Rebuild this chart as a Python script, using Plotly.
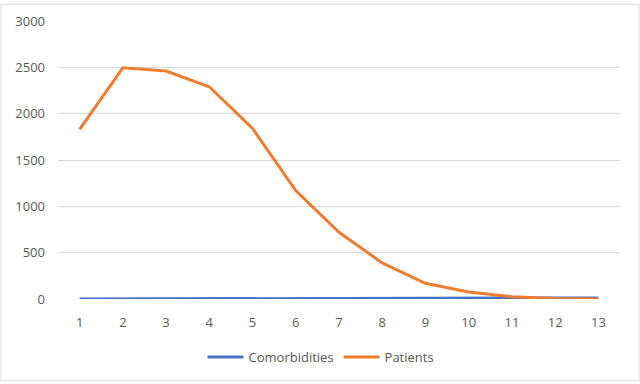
import plotly.graph_objects as go

categories = list(range(1, 14))
comorbidities = [0, 1, 2, 3, 4, 5, 6, 7, 8, 9, 10, 11, 12]
patients = [1830, 2495, 2460, 2290, 1840, 1170, 720, 390, 170, 75, 25, 6, 1]

W, H = 640, 384
ml, mr, mt, mb = 58, 20, 18, 84
pw, ph = W - ml - mr, H - mt - mb

fig = go.Figure()
fig.add_trace(go.Scatter(x=categories, y=comorbidities, mode='lines', name='Comorbidities',
                         line=dict(color='#4472C4', width=3)))
fig.add_trace(go.Scatter(x=categories, y=patients, mode='lines', name='Patients',
                         line=dict(color='#ED7D31', width=3)))

font = dict(family='Open Sans, Liberation Sans, sans-serif', size=13, color='#595959')

fig.update_layout(
    width=W, height=H,
    margin=dict(l=ml, r=mr, t=mt, b=mb),
    paper_bgcolor='white', plot_bgcolor='white',
    font=font,
    showlegend=True,
    legend=dict(orientation='h', x=0.468, xanchor='center', y=-0.155, yanchor='top',
                font=font, itemwidth=36),
    xaxis=dict(range=[0.5, 13.5], tickvals=categories, ticktext=[str(c) for c in categories],
               showgrid=False, zeroline=False, showline=False, ticks='',
               ticklabelstandoff=14),
    yaxis=dict(range=[0, 3000], dtick=500, showgrid=True, gridcolor='#d9d9d9', gridwidth=1,
               zeroline=False, showline=False, ticks='', ticklabelstandoff=12),
    shapes=[dict(type='rect', xref='paper', yref='paper',
                 x0=-(ml - 1) / pw, x1=1 + (mr - 1) / pw,
                 y0=-(mb - 1) / ph, y1=1 + (mt - 1) / ph,
                 line=dict(color='#d9d9d9', width=1), layer='below')],
)

# drop the default page margin so the figure sits at the window origin
fig.write_html("out.html", config={'displayModeBar': False},
               post_script="document.body.style.margin='0';")
